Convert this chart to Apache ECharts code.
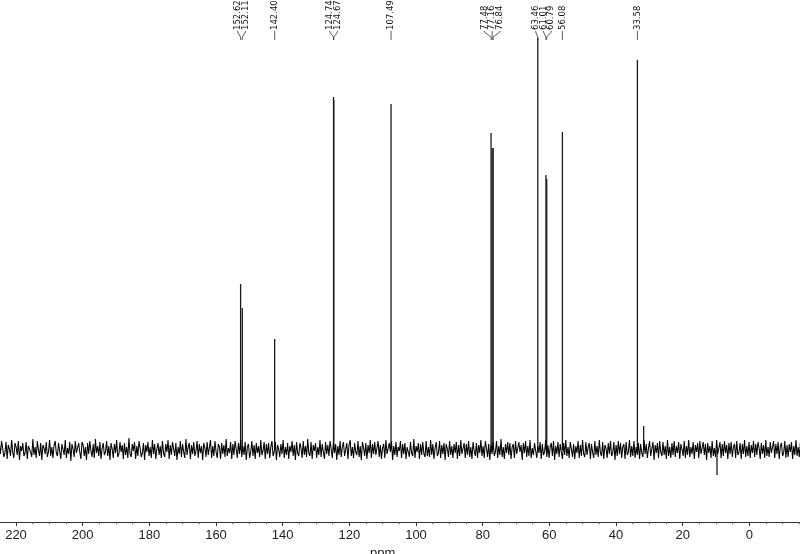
<!DOCTYPE html>
<html>
<head>
<meta charset="utf-8">
<script src="https://cdn.jsdelivr.net/npm/echarts@6/dist/echarts.min.js"></script>
<style>
  html, body { margin: 0; padding: 0; background: #fff; }
  #main { width: 800px; height: 554px; }
</style>
</head>
<body>
<div id="main"></div>
<script>
// 13C peaks (ppm) and their heights above the baseline
var peakPpm = [152.62, 152.11, 142.40, 124.74, 124.67, 107.49, 77.48, 77.16, 76.84, 63.46, 61.01, 60.79, 56.08, 33.58];
var peakHeight = [166, 142, 111, 353, 350, 346, 317, 302, 302, 412, 275, 271, 318, 390];

// unlabeled signals
var otherPpm = [31.7, 9.7];
var otherHeight = [24, -25];

// baseline noise, read left to right (225 ppm -> -16 ppm)
var noiseFrom = 225, noiseTo = -16;
var noise = [
  6,-4,9,2,-7,-3,8,-9,5,1,-6,10,-2,-8,7,3,-5,9,-10,4,-1,7,-6,-3,
  8,-9,4,6,-2,-7,11,-5,3,-8,9,0,-6,7,-10,5,2,-4,8,-7,-2,10,-6,3,
  -8,5,9,-3,-6,7,-1,-9,6,4,-5,10,-8,2,-4,8,-11,6,1,-7,9,-3,-5,7,
  -2,-9,8,5,-6,3,-10,7,-4,9,-1,-7,6,-8,11,-3,4,-6,8,-9,2,7,-5,-2,
  9,-6,4,-10,7,1,-8,6,-3,10,-7,-4,8,-2,5,-9,7,-5,3,-8,12,-4,-7,6,
  -1,8,-9,4,-6,9,2,-7,-3,7,-10,5,-2,8,-6,3,-8,10,-4,6,-9,1,7,-5,
  4,-8,9,-3,-7,6,-2,10,-9,5,-5,8,1,-6,7,-10,3,-4,9,-7,6,-2,-8,11,
  -5,3,7,-9,5,-4,8,-6,-1,9,-8,6,-3,4,-10,7,2,-7,8,-5,-3,10,-8,4,
  -6,9,-2,-8,6,3,-9,7,-4,5,-7,11,-6,2,-3,8,-9,6,-5,9,1,-8,7,-4,
  10,-7,4,-5,8,-10,3,6,-8,-2,9,-6,5,-9,7,-3,4,-7,10,-5,-1,8,-9,6,
  -4,7,-8,3,9,-6,-2,8,-10,5,1,-7,6,-4,10,-8,3,-5,7,-9,4,-2,9,-6,
  5,-10,8,-3,-6,7,2,-8,9,-5,4,-7,11,-3,-6,8,-9,5,-1,7,-8,3,-5,10,
  -7,6,-2,-9,8,-4,5,-6,9,1,-8,7,-3,6,-10,4,-5,9,-7,3,8,-6,-4,7,
  -9,5,10,-6,3,-8,7,-2,-5,9,-7,4,-10,8,2,-6,7,-9,5,-3,10,-8,6,-4,
  8,-5,-3,9,-7,5,-9,2,6,-8,10,-4,-6,7,-2,9,-10,4,-5,8,-7,3,-1,9,
  -8,6,-4,7,-9,3,5,-7,8,-3,-6,11,-8,4,-2,7,-9,6,-5,8,-4,-7,9,-6,
  3,-7,10,-5,6,-9,2,8,-6,-3,9,-8,5,-4,7,-10,6,1,-7,9,-5,4,-8,6,
  -3,8,-9,5,-6,10,-4,-2,7,-8,6,-5,9,-7,3,-9,8,-1,-6,7,-8,5,-3,10,
  -6,4,-8,9,2,-7,6,-10,5,-4,8,-6,-2,9,-8,4,-5,11,-7,3,-9,6,-3,8,
  -5,7,-9,3,6,-8,9,-4,-6,8,-2,5,-10,7,-3,9,-7,4,-6,10,-8,2,-5,7,
  9,-8,4,-3,8,-9,6,-5,-2,10,-7,5,-8,3,7,-6,9,-10,4,-4,8,-7,6,-2,
  -9,7,-5,10,-6,3,-8,8,1,-7,6,-9,4,-3,9,-8,5,-6,10,-4,-7,8,-5,3,
  7,-9,6,-2,-8,9,-5,4,-7,10,-3,-6,8,-9,5,2,-8,7,-4,9,-6,-3,8,-10,
  5,-6,9,-4,7,-8,3,6,-9,8,-5,-2,10,-7,4,-6,9,-8,3,-5,7,-9,6,-3,
  -7,10,-4,6,-8,2,9,-6,-4,8,-10,5,-3,7,-8,9,-2,-6,8,-5,4,-9,10,-6,
  3,-8,7,-5,9,-7,4,-3,8,-9,6,1,-6,9,-8,4,-5,10,-7,3,-4,8,-9,5,
  -2,7,-8,9,-4,-6,8,-5,6,-10,7,-3,4,-8,9,-6,2,-7,10,-4,-5,8,-8,6,
  -6,9,-3,5,-9,7,-4,8,-7,3,6,-8,9,-5,-2,7,-9,6,-4,10,-7,4,-6,8,
  -8,5,-3,9,-7,6,-5,8,2,-9,7,-4,5,-8,10,-6,3,-7,8,-3,-5,9,-8,6,
  -4,8,-9,4,7,-6,-3,9,-8,5,-7,6,-2,8,-9,4,-5,10,-6,3,-7,8,-4,6
];

var noiseData = noise.map(function (v, i) {
  return [noiseFrom + (noiseTo - noiseFrom) * i / (noise.length - 1), v];
});
var peakData = peakPpm.map(function (p, i) { return [p, peakHeight[i]]; })
  .concat(otherPpm.map(function (p, i) { return [p, otherHeight[i]]; }));
var labelData = peakPpm.map(function (p) { return [p, 0]; });

// push crowded labels apart, keep each cluster centred on its peaks
function spread(xs, gap) {
  var groups = [];
  xs.forEach(function (x) {
    groups.push({ sum: x, n: 1 });
    while (groups.length > 1) {
      var b = groups[groups.length - 1], a = groups[groups.length - 2];
      var ca = a.sum / a.n, cb = b.sum / b.n;
      if (cb - (b.n - 1) * gap / 2 - (ca + (a.n - 1) * gap / 2) >= gap) break;
      groups.pop();
      a.sum += b.sum; a.n += b.n;
    }
  });
  var out = [];
  groups.forEach(function (g) {
    var c = g.sum / g.n;
    for (var k = 0; k < g.n; k++) out.push(c + (k - (g.n - 1) / 2) * gap);
  });
  return out;
}

var myChart = echarts.init(document.getElementById('main'));

var option = {
  animation: false,
  grid: {
    left: -50.67, right: -16, top: 0, bottom: 32,
    containLabel: false, outerBoundsMode: 'none'
  },
  xAxis: {
    type: 'value',
    inverse: true,
    min: -20, max: 240, interval: 20,
    name: 'ppm', nameLocation: 'middle', nameGap: 15,
    nameTextStyle: { fontSize: 13, color: '#222', fontFamily: 'Liberation Sans' },
    axisLine: { onZero: false, lineStyle: { color: '#333', width: 1 } },
    axisTick: { length: 4, lineStyle: { color: '#333' } },
    minorTick: { show: true, splitNumber: 4, length: 2, lineStyle: { color: '#555' } },
    splitLine: { show: false },
    axisLabel: { margin: 7, fontSize: 13, color: '#222', fontFamily: 'Liberation Sans' }
  },
  yAxis: { type: 'value', min: -72, max: 450, show: false },
  series: [
    {
      type: 'line',
      data: noiseData,
      showSymbol: false,
      silent: true,
      lineStyle: { color: '#000', width: 1.05 }
    },
    {
      type: 'custom',
      data: peakData,
      silent: true,
      renderItem: function (params, api) {
        var a = api.coord([api.value(0), 0]);
        var b = api.coord([api.value(0), api.value(1)]);
        return {
          type: 'line',
          shape: { x1: a[0], y1: a[1], x2: b[0], y2: b[1] },
          style: { stroke: '#1a1a1a', lineWidth: 1.3 }
        };
      }
    },
    {
      type: 'custom',
      data: labelData,
      silent: true,
      clip: false,
      renderItem: function (params, api) {
        var xs = peakPpm.map(function (p) { return api.coord([p, 0])[0]; });
        var lx = spread(xs, 7.8)[params.dataIndex];
        var px = xs[params.dataIndex];
        return {
          type: 'group',
          children: [
            {
              type: 'text',
              x: lx, y: 30, rotation: Math.PI / 2,
              style: {
                text: peakPpm[params.dataIndex].toFixed(2),
                fontSize: 8.5, fontFamily: 'DejaVu Sans', fill: '#111',
                align: 'left', verticalAlign: 'middle'
              }
            },
            {
              type: 'polyline',
              shape: { points: [[lx, 31], [lx, 32], [px, 37], [px, 40]] },
              style: { stroke: '#333', lineWidth: 0.8, fill: null }
            }
          ]
        };
      }
    }
  ]
};

myChart.setOption(option);
</script>
</body>
</html>
